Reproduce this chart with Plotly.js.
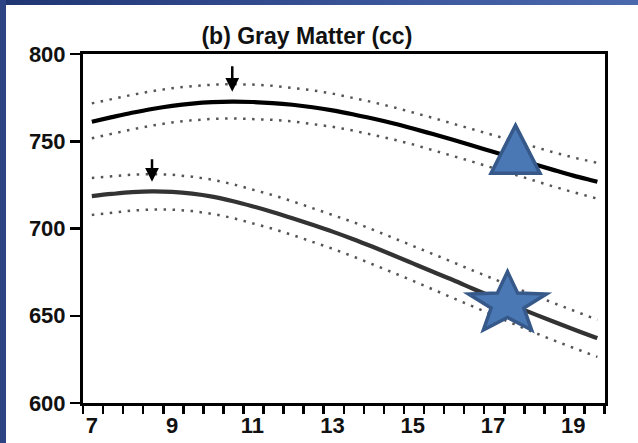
<!DOCTYPE html>
<html>
<head>
<meta charset="utf-8">
<script src="https://cdn.plot.ly/plotly-3.0.1.min.js"></script>
<style>
  html, body { margin: 0; padding: 0; background: #ffffff; }
  #wrap { position: relative; width: 638px; height: 443px; overflow: hidden; }
  #chart { width: 638px; height: 443px; }
  #topbar { position: absolute; left: 0; top: 0; width: 638px; height: 5px;
            background: linear-gradient(to right, #1f3572, #3b559a 60%, #4b69ad); pointer-events: none; }
  #leftbar { position: absolute; left: 0; top: 0; width: 6px; height: 443px;
             background: #2c4384; pointer-events: none; }
</style>
</head>
<body>
<div id="wrap">
  <div id="chart"></div>
  <div id="topbar"></div>
  <div id="leftbar"></div>
</div>
<script>
// ---- data ----
const titleText = "(b) Gray Matter (cc)";
const ages = [7, 7.5, 8, 8.5, 9, 9.5, 10, 10.5, 11, 11.5, 12, 12.5, 13, 13.5, 14, 14.5, 15, 15.5, 16, 16.5, 17, 17.5, 18, 18.5, 19, 19.5, 19.6];

// upper curve (solid black) and its dotted confidence band
const upperMean = [761.2, 763.8, 766.3, 768.5, 770.3, 771.6, 772.4, 772.7, 772.5, 771.9, 770.9, 769.5, 767.7, 765.5, 763.0, 760.3, 757.3, 754.1, 750.8, 747.4, 744.0, 740.5, 737.0, 733.6, 730.3, 727.4, 726.8];
const upperHi   = [771.7, 774.2, 776.6, 778.7, 780.4, 781.6, 782.4, 782.7, 782.5, 781.8, 780.7, 779.2, 777.3, 775.0, 772.4, 769.6, 766.6, 763.4, 760.1, 756.8, 753.5, 750.1, 746.8, 743.7, 740.7, 738.1, 737.6];
const upperLo   = [751.7, 754.3, 756.8, 759.0, 760.8, 762.0, 762.8, 763.1, 762.9, 762.3, 761.4, 760.0, 758.3, 756.2, 753.8, 751.1, 748.2, 745.0, 741.7, 738.2, 734.7, 731.1, 727.6, 724.1, 720.8, 717.7, 717.1];

// lower curve (solid dark gray) and its dotted confidence band
const lowerMean = [718.6, 719.8, 720.8, 721.3, 721.0, 720.0, 718.3, 715.8, 712.8, 709.5, 705.9, 702.1, 698.2, 694.0, 689.5, 684.8, 680.0, 675.2, 670.5, 665.5, 660.6, 655.8, 651.2, 646.7, 642.3, 638.0, 637.2];
const lowerHi   = [729.0, 730.1, 730.9, 731.2, 730.8, 729.7, 728.0, 725.5, 722.5, 719.2, 715.6, 711.8, 707.9, 703.8, 699.4, 694.8, 690.1, 685.4, 680.7, 675.9, 671.1, 666.4, 661.9, 657.4, 653.0, 648.6, 647.7];
const lowerLo   = [707.8, 709.2, 710.3, 710.9, 710.8, 710.0, 708.4, 706.1, 703.2, 699.9, 696.3, 692.4, 688.4, 684.1, 679.6, 674.8, 670.0, 665.1, 660.2, 655.2, 650.2, 645.3, 640.6, 636.0, 631.5, 627.2, 626.4];

// peak arrows (age of peak, y where the arrow tip points)
const peakAges = [10.5, 8.5];
const peakTipY = [778.4, 726.8];

// overlay symbols: triangle (base centre) and star (centre)
const triangleAt = [17.56, 731.6];
const starAt = [17.36, 656.8];

// tick labels
const xTickVals = [7, 9, 11, 13, 15, 17, 19];
const xTickText = ["7", "9", "11", "13", "15", "17", "19"];
const yTickVals = [600, 650, 700, 750, 800];
const yTickText = ["600", "650", "700", "750", "800"];

// ---- drawing ----
const dotStyle = {color: "#555555", width: 2.5, dash: "2.5px,6.5px"};
const traces = [
  {x: ages, y: upperHi, mode: "lines", line: dotStyle, hoverinfo: "skip"},
  {x: ages, y: upperLo, mode: "lines", line: dotStyle, hoverinfo: "skip"},
  {x: ages, y: upperMean, mode: "lines", line: {color: "#000000", width: 4.2, shape: "spline"}},
  {x: ages, y: lowerHi, mode: "lines", line: dotStyle, hoverinfo: "skip"},
  {x: ages, y: lowerLo, mode: "lines", line: dotStyle, hoverinfo: "skip"},
  {x: ages, y: lowerMean, mode: "lines", line: {color: "#333333", width: 4.2, shape: "spline"}}
];

// star path in pixel offsets (y positive = up)
function starPath(rx, ry, inner) {
  let p = "";
  for (let k = 0; k < 10; k++) {
    const th = Math.PI / 2 + k * Math.PI / 5;
    const r = (k % 2 === 0) ? 1 : inner;
    const px = (rx * r * Math.cos(th)).toFixed(2);
    const py = (ry * r * Math.sin(th)).toFixed(2);
    p += (k === 0 ? "M" : "L") + px + "," + py + " ";
  }
  return p + "Z";
}

const shapeFill = "#4a78b4";
const shapeLine = {color: "#36598a", width: 3.5};
const fam = "Liberation Sans, Arial, sans-serif";

const layout = {
  width: 638, height: 443,
  margin: {l: 83, r: 33, t: 54, b: 40},
  paper_bgcolor: "#ffffff", plot_bgcolor: "#ffffff",
  showlegend: false,
  font: {family: fam, color: "#111111"},
  title: {
    text: "<b>" + titleText + "</b>",
    font: {size: 23, family: fam, color: "#111111"},
    xref: "container", x: 0.481, xanchor: "center",
    yref: "container", y: 1 - 36 / 443, yanchor: "middle"
  },
  xaxis: {
    range: [6.78, 19.79], showgrid: false, zeroline: false,
    showline: true, linecolor: "#000", linewidth: 3, mirror: true,
    tickmode: "array", tickvals: xTickVals, ticktext: xTickText,
    ticks: "outside", ticklen: 1, tickcolor: "rgba(0,0,0,0)", tickwidth: 2.5,
    tickfont: {size: 22, family: fam, color: "#111", weight: "bold"},
    minor: {ticks: "outside", tick0: 6.78, dtick: 0.5, ticklen: 8, tickwidth: 2.5, tickcolor: "#000", showgrid: false},
    fixedrange: true
  },
  yaxis: {
    range: [600, 800], showgrid: false, zeroline: false,
    showline: true, linecolor: "#000", linewidth: 3, mirror: true,
    tickmode: "array", tickvals: yTickVals, ticktext: yTickText,
    ticks: "outside", ticklen: 10, tickwidth: 2.5, tickcolor: "#000",
    tickfont: {size: 22, family: fam, color: "#111", weight: "bold"},
    fixedrange: true
  },
  annotations: peakAges.map((a, i) => ({
    x: a, y: peakTipY[i], xref: "x", yref: "y", text: "",
    showarrow: true, ax: 0, ay: (i === 0 ? -27 : -24),
    arrowhead: 2, arrowsize: 1.1, arrowwidth: 2.5, arrowcolor: "#000", standoff: 0
  })),
  shapes: [
    {type: "path", xref: "x", yref: "y", xsizemode: "pixel", ysizemode: "pixel",
     xanchor: triangleAt[0], yanchor: triangleAt[1],
     path: "M-24.5,0 L24.5,0 L0,48 Z", fillcolor: shapeFill, line: shapeLine, layer: "above"},
    {type: "path", xref: "x", yref: "y", xsizemode: "pixel", ysizemode: "pixel",
     xanchor: starAt[0], yanchor: starAt[1],
     path: starPath(41, 32.2, 0.42), fillcolor: shapeFill, line: shapeLine, layer: "above"}
  ]
};

Plotly.newPlot("chart", traces, layout, {displayModeBar: false, staticPlot: true});
</script>
</body>
</html>
